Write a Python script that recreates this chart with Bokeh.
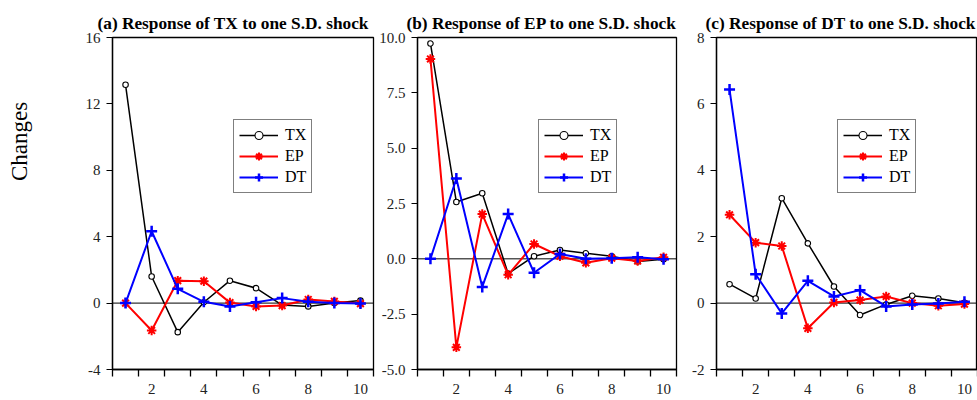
import math
from bokeh.plotting import figure
from bokeh.layouts import row
from bokeh.models import FixedTicker, Range1d, Span, Legend, LegendItem, Label
from bokeh.embed import file_html
from bokeh.resources import INLINE

periods = [1, 2, 3, 4, 5, 6, 7, 8, 9, 10]
series_names = ["TX", "EP", "DT"]

a_tx = [13.15, 1.6, -1.75, 0.05, 1.35, 0.9, -0.12, -0.2, 0.0, 0.15]
a_ep = [0.0, -1.65, 1.35, 1.32, 0.03, -0.2, -0.15, 0.22, 0.1, -0.03]
a_dt = [0.0, 4.33, 0.86, 0.08, -0.2, 0.05, 0.3, 0.08, 0.0, -0.03]

b_tx = [9.73, 2.57, 2.96, -0.67, 0.12, 0.4, 0.25, 0.12, -0.12, -0.02]
b_ep = [9.03, -4.0, 2.02, -0.72, 0.67, 0.12, -0.18, 0.03, -0.1, 0.07]
b_dt = [0.0, 3.63, -1.27, 2.02, -0.63, 0.22, 0.0, 0.03, 0.07, -0.02]

c_tx = [0.57, 0.14, 3.16, 1.8, 0.5, -0.36, -0.04, 0.22, 0.14, 0.01]
c_ep = [2.66, 1.82, 1.72, -0.76, 0.02, 0.09, 0.2, 0.0, -0.08, -0.03]
c_dt = [6.43, 0.87, -0.31, 0.67, 0.2, 0.39, -0.1, -0.04, -0.01, 0.04]

a_yticks = [-4, 0, 4, 8, 12, 16]
a_ylabels = ["-4", "0", "4", "8", "12", "16"]
b_yticks = [-5, -2.5, 0, 2.5, 5, 7.5, 10]
b_ylabels = ["-5.0", "-2.5", "0.0", "2.5", "5.0", "7.5", "10.0"]
c_yticks = [-2, 0, 2, 4, 6, 8]
c_ylabels = ["-2", "0", "2", "4", "6", "8"]
xticks = [2, 4, 6, 8, 10]
xticks_minor = [0.5, 1.5, 2.5, 3.5, 4.5, 5.5, 6.5, 7.5, 8.5, 9.5, 10.5]

titles = ["(a) Response of TX to one S.D. shock",
          "(b) Response of EP to one S.D. shock",
          "(c) Response of DT to one S.D. shock"]
y_title = "Changes"

FONT = "Liberation Serif"
H = 400
TOP = 37
BOTTOM = 31
FRAME_H = H - TOP - BOTTOM
LEG_H = 72
SIDE_W = 36


def panel(title, tx, ep, dt, yticks, ylabels, width, left, right, toff):
    p = figure(width=width, height=H, output_backend="svg", toolbar_location=None,
               x_range=Range1d(0.5, 10.5), y_range=Range1d(yticks[0], yticks[-1]),
               min_border_left=left, min_border_right=right,
               min_border_top=TOP, min_border_bottom=BOTTOM)
    p.xgrid.visible = False
    p.ygrid.visible = False
    p.outline_line_color = "black"
    p.outline_line_width = 1.3
    p.background_fill_color = "white"
    p.border_fill_color = "white"

    p.title.text = title
    p.title.align = "left"
    p.title.offset = toff
    p.title.text_font = FONT
    p.title.text_font_style = "bold"
    p.title.text_font_size = "17.3px"
    p.title.standoff = 10
    p.title.text_color = "black"

    xa = p.xaxis[0]
    xa.ticker = FixedTicker(ticks=xticks, minor_ticks=xticks_minor)
    xa.major_tick_line_color = None
    xa.major_tick_out = 7
    xa.major_tick_in = 0
    xa.minor_tick_out = 7
    xa.minor_tick_in = 0
    xa.minor_tick_line_color = "black"
    xa.minor_tick_line_width = 1.3
    xa.axis_line_color = "black"
    xa.axis_line_width = 1.3
    xa.major_label_standoff = 7
    xa.major_label_text_font = FONT
    xa.major_label_text_font_size = "15px"
    xa.major_label_text_color = "#222222"

    ya = p.yaxis[0]
    ya.ticker = FixedTicker(ticks=yticks, minor_ticks=[])
    ya.major_label_overrides = {t: l for t, l in zip(yticks, ylabels)}
    ya.major_tick_out = 6
    ya.major_tick_in = 0
    ya.major_tick_line_color = "black"
    ya.major_tick_line_width = 1.2
    ya.axis_line_color = "black"
    ya.axis_line_width = 1.3
    ya.major_label_standoff = 6
    ya.major_label_text_font = FONT
    ya.major_label_text_font_size = "15px"
    ya.major_label_text_color = "#222222"

    p.add_layout(Span(location=0, dimension="width", line_color="black",
                      line_width=1, level="underlay"))

    l1 = p.line(periods, tx, line_color="black", line_width=1.5)
    s1 = p.scatter(periods, tx, marker="circle", size=5.5, fill_color="white",
                   line_color="black", line_width=1.1)
    l2 = p.line(periods, ep, line_color="#ff0000", line_width=2)
    s2 = p.scatter(periods, ep, marker="asterisk", size=9.5,
                   line_color="#ff0000", line_width=2)
    l3 = p.line(periods, dt, line_color="#0000ff", line_width=2)
    s3 = p.scatter(periods, dt, marker="cross", size=11,
                   line_color="#0000ff", line_width=2.5)

    items = [LegendItem(label=series_names[0], renderers=[l1, s1]),
             LegendItem(label=series_names[1], renderers=[l2, s2]),
             LegendItem(label=series_names[2], renderers=[l3, s3])]
    leg = Legend(items=items, location=(121, FRAME_H - 84 - LEG_H),
                 border_line_color="black", border_line_width=1,
                 background_fill_color="white", background_fill_alpha=1,
                 label_text_font=FONT, label_text_font_size="16px",
                 label_text_color="black",
                 glyph_width=39, glyph_height=20, label_height=20,
                 label_standoff=7, padding=5, spacing=1, margin=0)
    p.add_layout(leg)
    return p


# narrow strip holding the vertical "Changes" title
side = figure(width=SIDE_W, height=H, output_backend="svg", toolbar_location=None,
              x_axis_location=None, y_axis_location=None, min_border=0,
              x_range=Range1d(0, 1), y_range=Range1d(0, 1))
side.xgrid.visible = False
side.ygrid.visible = False
side.outline_line_color = None
side.add_layout(Label(x=19, y=H - 139 - 33, x_units="screen", y_units="screen",
                      text=y_title, angle=math.pi / 2,
                      text_align="center", text_baseline="middle",
                      text_font=FONT, text_font_size="23px", text_color="black"))

pa = panel(titles[0], a_tx, a_ep, a_dt, a_yticks, a_ylabels, 376 - SIDE_W, 112 - SIDE_W, 3, -15)
pb = panel(titles[1], b_tx, b_ep, b_dt, b_yticks, b_ylabels, 304, 38, 4, -11)
pc = panel(titles[2], c_tx, c_ep, c_dt, c_yticks, c_ylabels, 297, 36, 0, -11)

layout = row(side, pa, pb, pc)
open("out.html", "w").write(file_html(layout, INLINE))
